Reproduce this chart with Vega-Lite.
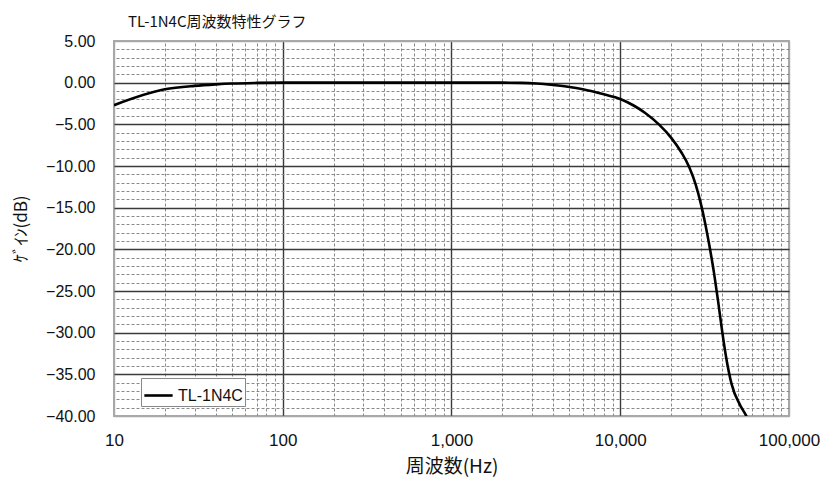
{
  "$schema": "https://vega.github.io/schema/vega-lite/v6.json",
  "width": 675,
  "height": 375,
  "autosize": {"type": "none"},
  "padding": {"left": 114, "top": 41, "right": 33, "bottom": 69},
  "background": "white",
  "config": {
    "view": {"stroke": "#a8a8a8", "strokeWidth": 2},
    "axis": {"labelFont": "Liberation Sans", "labelColor": "#111", "titleColor": "#111"}
  },
  "title": {
    "text": "TL-1N4C周波数特性グラフ",
    "font": "Noto Sans CJK JP",
    "fontSize": 15,
    "fontWeight": "normal",
    "color": "#111",
    "anchor": "start",
    "frame": "group",
    "dx": 14,
    "offset": 3
  },
  "data": {
    "values": [
      {"freq": 10, "gain": -2.7, "series": "TL-1N4C"},
      {"freq": 20, "gain": -0.8, "series": "TL-1N4C"},
      {"freq": 30, "gain": -0.38, "series": "TL-1N4C"},
      {"freq": 40, "gain": -0.2, "series": "TL-1N4C"},
      {"freq": 50, "gain": -0.1, "series": "TL-1N4C"},
      {"freq": 70, "gain": -0.03, "series": "TL-1N4C"},
      {"freq": 100, "gain": 0, "series": "TL-1N4C"},
      {"freq": 200, "gain": 0, "series": "TL-1N4C"},
      {"freq": 500, "gain": 0, "series": "TL-1N4C"},
      {"freq": 1000, "gain": 0, "series": "TL-1N4C"},
      {"freq": 2000, "gain": 0, "series": "TL-1N4C"},
      {"freq": 2600, "gain": -0.02, "series": "TL-1N4C"},
      {"freq": 3200, "gain": -0.1, "series": "TL-1N4C"},
      {"freq": 4000, "gain": -0.28, "series": "TL-1N4C"},
      {"freq": 5000, "gain": -0.52, "series": "TL-1N4C"},
      {"freq": 6000, "gain": -0.8, "series": "TL-1N4C"},
      {"freq": 8000, "gain": -1.4, "series": "TL-1N4C"},
      {"freq": 10000, "gain": -1.95, "series": "TL-1N4C"},
      {"freq": 12000, "gain": -2.74, "series": "TL-1N4C"},
      {"freq": 14000, "gain": -3.61, "series": "TL-1N4C"},
      {"freq": 17000, "gain": -5.04, "series": "TL-1N4C"},
      {"freq": 20000, "gain": -6.59, "series": "TL-1N4C"},
      {"freq": 23000, "gain": -8.35, "series": "TL-1N4C"},
      {"freq": 25650, "gain": -10.15, "series": "TL-1N4C"},
      {"freq": 28000, "gain": -12.24, "series": "TL-1N4C"},
      {"freq": 30000, "gain": -14.49, "series": "TL-1N4C"},
      {"freq": 32000, "gain": -17.07, "series": "TL-1N4C"},
      {"freq": 33700, "gain": -19.48, "series": "TL-1N4C"},
      {"freq": 36000, "gain": -22.92, "series": "TL-1N4C"},
      {"freq": 38000, "gain": -26.21, "series": "TL-1N4C"},
      {"freq": 39900, "gain": -29.39, "series": "TL-1N4C"},
      {"freq": 42300, "gain": -32.82, "series": "TL-1N4C"},
      {"freq": 45700, "gain": -36.18, "series": "TL-1N4C"},
      {"freq": 51300, "gain": -38.69, "series": "TL-1N4C"},
      {"freq": 55400, "gain": -39.86, "series": "TL-1N4C"},
      {"freq": 56500, "gain": -40.2, "series": "TL-1N4C"}
    ]
  },
  "layer": [
    {
      "mark": {"type": "point", "opacity": 0},
      "encoding": {
        "x": {
          "field": "freq", "type": "quantitative",
          "scale": {"type": "log", "domain": [10, 100000], "nice": false},
          "axis": {
            "orient": "top", "title": null, "labels": false, "ticks": false, "domain": false,
            "grid": true, "gridColor": "#8a8a8a", "gridDash": [3, 2], "gridWidth": 1,
            "values": [20, 30, 40, 50, 60, 70, 80, 90, 200, 300, 400, 500, 600, 700, 800, 900, 2000, 3000, 4000, 5000, 6000, 7000, 8000, 9000, 20000, 30000, 40000, 50000, 60000, 70000, 80000, 90000]
          }
        },
        "y": {
          "field": "gain", "type": "quantitative",
          "scale": {"domain": [-40, 5], "nice": false, "zero": false},
          "axis": {
            "orient": "right", "title": null, "labels": false, "ticks": false, "domain": false,
            "grid": true, "gridColor": "#8a8a8a", "gridDash": [3, 2], "gridWidth": 1,
            "values": [4, 3, 2, 1, -1, -2, -3, -4, -6, -7, -8, -9, -11, -12, -13, -14, -16, -17, -18, -19, -21, -22, -23, -24, -26, -27, -28, -29, -31, -32, -33, -34, -36, -37, -38, -39]
          }
        }
      }
    },
    {
      "mark": {"type": "line", "strokeWidth": 2.6, "interpolate": "monotone", "clip": true},
      "encoding": {
        "x": {
          "field": "freq", "type": "quantitative",
          "axis": {
            "orient": "bottom", "title": "周波数(Hz)", "titleFont": "Noto Sans CJK JP", "titleFontSize": 19,
            "titleFontWeight": "normal", "titleY": 50, "titleBaseline": "middle",
            "values": [10, 100, 1000, 10000, 100000], "format": ",",
            "labelFontSize": 17, "labelPadding": 16, "ticks": false, "domain": false, "labelFlush": false,
            "grid": true, "gridWidth": 1.4,
            "gridColor": {"condition": {"test": "datum.value == 10 || datum.value == 100000", "value": "#a8a8a8"}, "value": "#3a3a3a"}
          }
        },
        "y": {
          "field": "gain", "type": "quantitative",
          "axis": {
            "orient": "left", "title": "ｹﾞｲﾝ(dB)", "titleFont": "Noto Sans CJK JP", "titleFontSize": 17,
            "titleFontWeight": "normal", "titleX": -84,
            "values": [5, 0, -5, -10, -15, -20, -25, -30, -35, -40], "format": ".2f",
            "labelFontSize": 16, "labelPadding": 19, "ticks": false, "domain": false,
            "grid": true, "gridWidth": 1.4,
            "gridColor": {"condition": {"test": "datum.value == 5 || datum.value == -40", "value": "#a8a8a8"}, "value": "#3a3a3a"}
          }
        },
        "color": {
          "field": "series", "type": "nominal",
          "scale": {"range": ["#000000"]},
          "legend": {
            "title": null, "orient": "none", "legendX": 27, "legendY": 337,
            "symbolType": "stroke", "symbolStrokeWidth": 2.6, "symbolSize": 800,
            "labelFont": "Liberation Sans", "labelFontSize": 16, "labelColor": "#111",
            "fillColor": "white", "strokeColor": "#888", "padding": 2
          }
        }
      }
    }
  ],
  "resolve": {"axis": {"x": "independent", "y": "independent"}}
}
